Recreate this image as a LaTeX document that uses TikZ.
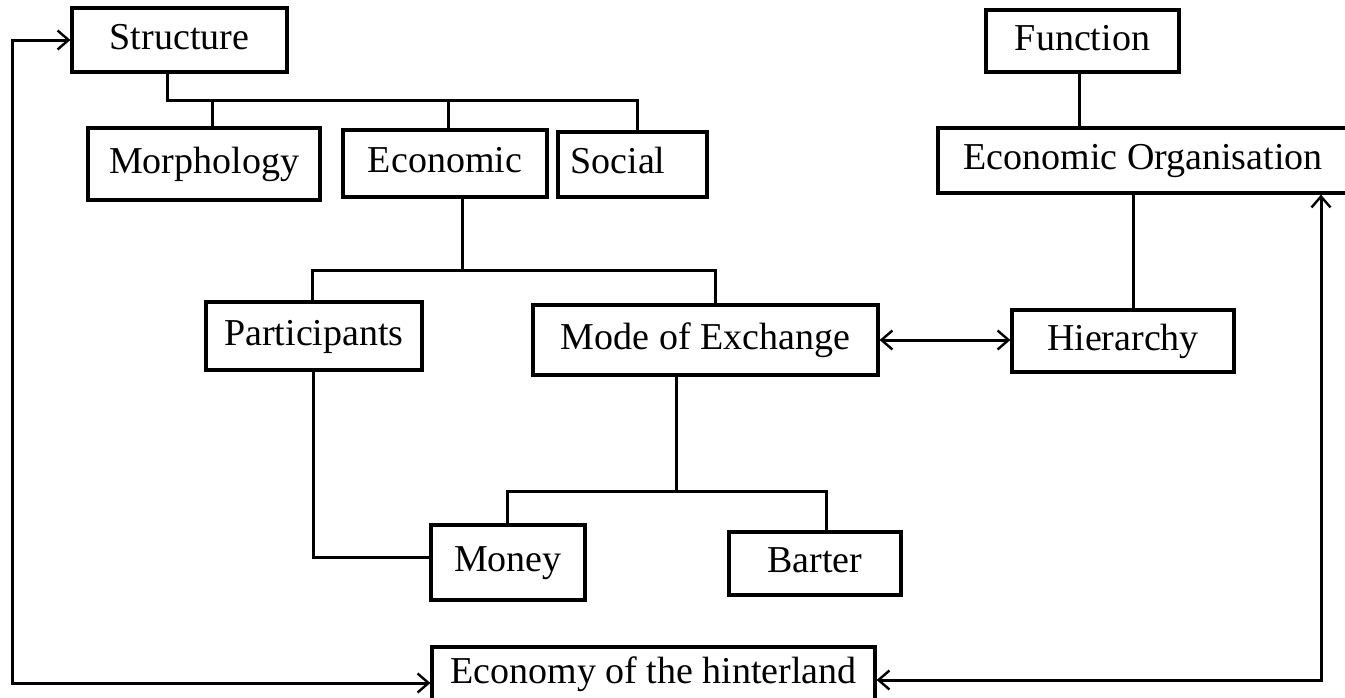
\documentclass[tikz,border=0pt]{standalone}
\usepackage{fontspec}
\setmainfont{Liberation Serif}
\usetikzlibrary{arrows.meta}
\begin{document}
\begin{tikzpicture}[x=1pt,y=-1pt,
  box/.style={draw, line width=3.2pt, inner sep=0pt, font=\fontsize{38}{40}\selectfont, text height=27pt, text depth=9pt, align=center},
  conn/.style={line width=3pt},
  >={Straight Barb[length=11pt,width=19pt,line width=2.4pt]}
]
\fill[white] (0,0) rectangle (1345,697);
\useasboundingbox (0,0) rectangle (1345,697);

\node[box, minimum width=215pt, minimum height=64pt] (struct) at (179.5,40) {Structure};
\node[box, minimum width=232pt, minimum height=72pt] (morph) at (204,164) {Morphology};
\node[box, minimum width=204pt, minimum height=67pt] (econ) at (445,163.5) {Economic};
\node[box, minimum width=149pt, minimum height=65pt] (soc) at (632.5,164.5) {\hspace*{-29pt}Social};
\node[box, minimum width=193pt, minimum height=62pt] (func) at (1082.5,41) {Function};
\node[box, minimum width=410pt, minimum height=65pt] (eco) at (1143,160.5) {Economic Organisation};
\node[box, minimum width=216pt, minimum height=68pt] (part) at (314,336) {Participants};
\node[box, minimum width=345pt, minimum height=70pt] (mode) at (705.5,340) {Mode of Exchange};
\node[box, minimum width=222pt, minimum height=62pt] (hier) at (1123,341) {Hierarchy};
\node[box, minimum width=154pt, minimum height=75pt] (money) at (508,562.5) {Money};
\node[box, minimum width=172pt, minimum height=63pt] (barter) at (815,563.5) {Barter};
\node[box, minimum width=443pt, minimum height=54pt] (hint) at (653.5,674) {Economy of the hinterland};

% Structure bus
\coordinate (b1) at (167,100);
\coordinate (b1m) at (212,100);
\coordinate (b1e) at (448,100);
\coordinate (b1s) at (637,100);
\draw[conn] (struct.south -| b1) -- (b1) -- (b1s) -- (soc.north -| b1s);
\draw[conn] (b1m) -- (morph.north -| b1m);
\draw[conn] (b1e) -- (econ.north -| b1e);

% Economic bus
\coordinate (b2) at (462,270);
\coordinate (b2p) at (312,270);
\coordinate (b2m) at (715,270);
\draw[conn] (econ.south -| b2) -- (b2);
\draw[conn] (part.north -| b2p) -- (b2p) -- (b2m) -- (mode.north -| b2m);

% Participants to Money
\coordinate (p1) at (313,557);
\draw[conn] (part.south -| p1) -- (p1) -- (money.west |- p1);

% Mode bus
\coordinate (b3) at (676,491);
\coordinate (b3m) at (507,491);
\coordinate (b3b) at (826,491);
\draw[conn] (mode.south -| b3) -- (b3);
\draw[conn] (money.north -| b3m) -- (b3m) -- (b3b) -- (barter.north -| b3b);

% Mode <-> Hierarchy
\draw[conn,<->] (mode.east) -- (hier.west |- mode.east);

% Function side
\coordinate (f1) at (1079,100);
\draw[conn] (func.south -| f1) -- (eco.north -| f1);
\coordinate (h1) at (1133,250);
\draw[conn] (eco.south -| h1) -- (hier.north -| h1);

% Left loop
\coordinate (l0) at (12,40);
\coordinate (l1) at (12,683);
\draw[conn,<->] (struct.west) -- (l0) -- (l1) -- (hint.west |- l1);

% Right loop
\coordinate (r1) at (1321,680);
\draw[conn,<->] (hint.east |- r1) -- (r1) -- (eco.south -| r1);
\end{tikzpicture}
\end{document}
